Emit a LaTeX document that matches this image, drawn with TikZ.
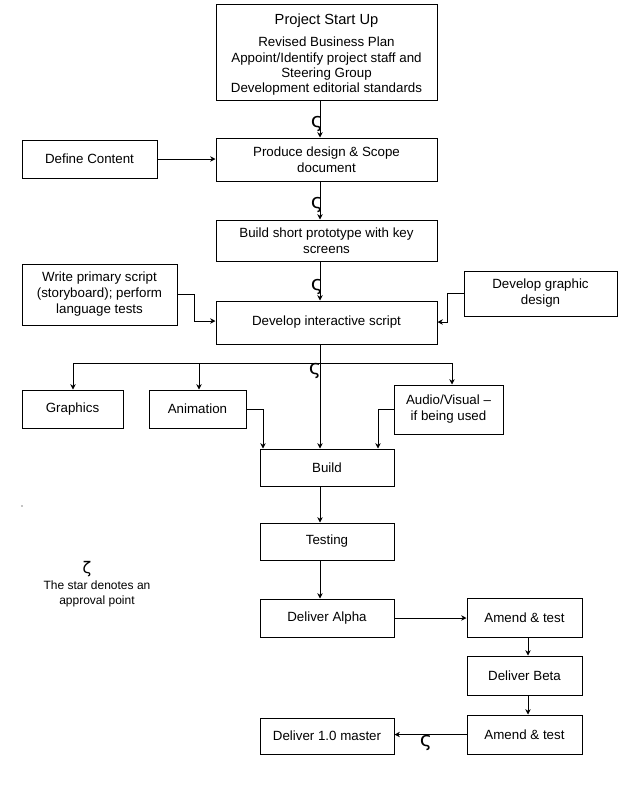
\documentclass[tikz,border=0pt]{standalone}
\usepackage{fontspec}
\setmainfont{Liberation Sans}
\newfontfamily\starfont{DejaVu Sans}
\usetikzlibrary{arrows.meta,calc}
\begin{document}
\begin{tikzpicture}[x=0.75pt,y=-0.75pt, line width=0.75pt,
  box/.style={draw, inner sep=0pt, align=center, font=\fontsize{10}{12}\selectfont},
  sz/.style 2 args={minimum width=#1*0.75pt, minimum height=#2*0.75pt},
  arr/.style={-{Stealth[length=4pt,width=4pt]}},
  star/.style={inner sep=0pt, font=\starfont\fontsize{13}{13}\selectfont}]
\fill[white] (0,0) rectangle (639,800);
\useasboundingbox (0,0) rectangle (639,800);
% boxes
\node[box, sz={221}{96}] (proj) at (326.5,52) {};
\node[inner sep=0pt, align=center, font=\fontsize{10}{11.5}\selectfont] (projtxt) at (326.5,55) {{\fontsize{11}{13}\selectfont Project Start Up}\\[5pt]
  Revised Business Plan\\ Appoint/Identify project staff and\\ Steering Group\\ Development editorial standards};
\node[box, sz={135}{38}] (def) at (89.5,159) {Define Content};
\node[box, sz={221}{43}] (prod) at (326.5,159.5) {Produce design \& Scope\\ document};
\node[box, sz={221}{41}] (proto) at (326.5,240.5) {Build short prototype with key\\ screens};
\node[box, sz={155}{61}] (write) at (99.5,294.5) {Write primary script\\ (storyboard); perform\\ language tests};
\node[box, sz={153}{45}] (graph) at (540.5,293.5) {Develop graphic\\ design};
\node[box, sz={221}{43}] (dev) at (326.5,322.5) {Develop interactive script};
\node[box, sz={101}{38}] (gfx) at (72.5,409) {Graphics};
\node[box, sz={97}{38}] (anim) at (197.5,409) {Animation};
\node[box, sz={109}{49}] (av) at (448.5,409.5) {Audio/Visual –\\ if being used};
\node[box, sz={134}{37}] (build) at (327,467.5) {Build};
\node[box, sz={134}{37}] (test) at (327,541.5) {Testing};
\node[box, sz={134}{38}] (alpha) at (327,618) {Deliver Alpha};
\node[box, sz={115}{39}] (am1) at (524.5,617.5) {Amend \& test};
\node[box, sz={115}{39}] (beta) at (524.5,675.5) {Deliver Beta};
\node[box, sz={115}{39}] (am2) at (524.5,734.5) {Amend \& test};
\node[box, sz={134}{36}] (master) at (327,736) {Deliver 1.0 master};
% helper coordinates
\coordinate (mx) at (320,0);
\coordinate (rx) at (528,0);
\coordinate (wk) at (194,321);
\coordinate (gk) at (447,322);
\coordinate (bl) at (73,363);
\coordinate (bm) at (199,363);
\coordinate (br) at (452,363);
\coordinate (ak) at (263,0);
\coordinate (vk) at (378,0);
% connectors
\draw[arr] (proj.south -| mx) -- (prod.north -| mx);
\draw[arr] (def.east) -- (def.east -| prod.west);
\draw[arr] (prod.south -| mx) -- (proto.north -| mx);
\draw[arr] (proto.south -| mx) -- (dev.north -| mx);
\draw[arr] (write.east) -| (wk) -- (wk -| dev.west);
\draw[arr] (graph.west) -| (gk) -- (gk -| dev.east);
\draw[arr] (dev.south -| mx) -- (build.north -| mx);
\draw (bl) -- (br);
\draw[arr] (bl) -- (bl |- gfx.north);
\draw[arr] (bm) -- (bm |- anim.north);
\draw[arr] (br) -- (br |- av.north);
\draw[arr] (anim.east) -| (ak |- build.north);
\draw[arr] (av.west) -| (vk |- build.north);
\draw[arr] (build.south -| mx) -- (test.north -| mx);
\draw[arr] (test.south -| mx) -- (alpha.north -| mx);
\draw[arr] (alpha.east) -- (alpha.east -| am1.west);
\draw[arr] (am1.south -| rx) -- (beta.north -| rx);
\draw[arr] (beta.south -| rx) -- (am2.north -| rx);
\draw[arr] (am2.west) -- (am2.west -| master.east);
% approval stars
\node[star] (s1) at (317,124) {\scalebox{1.2}[1.15]{ς}};
\node[star] (s2) at (317,205) {\scalebox{1.2}[1.15]{ς}};
\node[star] (s3) at (317,287) {\scalebox{1.2}[1.15]{ς}};
\node[star] (s4) at (315,371) {\scalebox{1.2}[1.15]{ς}};
\node[star] (s5) at (426,743) {\scalebox{1.2}[1.15]{ς}};
% legend
\node[inner sep=0pt, font=\starfont\fontsize{12}{12}\selectfont] (leg) at (87,569) {ζ};
\node[inner sep=0pt, align=center, font=\fontsize{9}{11.5}\selectfont] (legtext) at (97,594) {The star denotes an\\ approval point};
\fill (22,506) circle (0.7);
\end{tikzpicture}
\end{document}
